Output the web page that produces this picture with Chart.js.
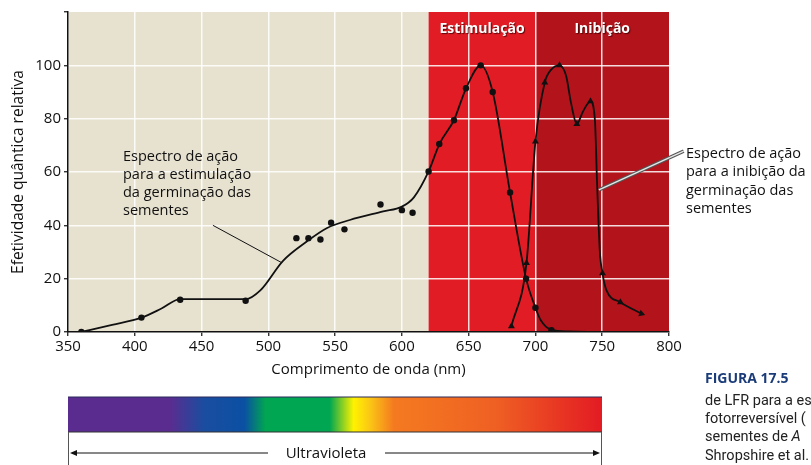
<!DOCTYPE html>
<html>
<head>
<meta charset="utf-8">
<script src="https://cdn.jsdelivr.net/npm/chart.js@4.4.0/dist/chart.umd.min.js"></script>
<style>
  html, body { margin: 0; padding: 0; background: #fff; }
  #wrap { position: relative; width: 811px; height: 465px; overflow: hidden; font-family: "Open Sans", sans-serif; }
  #chart { position: absolute; left: 0; top: 0; }
  #spectrum { position: absolute; left: 0; top: 0; }
  .caption { position: absolute; left: 705px; white-space: nowrap; font-family: Roboto, "Open Sans", sans-serif; font-size: 14.5px; line-height: 18px; color: #222; }
  .caption.title { font-weight: bold; color: #1b3c78; font-family: "Open Sans", sans-serif; font-size: 14px; }
</style>
</head>
<body>
<div id="wrap">
  <canvas id="chart" width="811" height="465"></canvas>
  <svg id="spectrum" width="811" height="465">
    <defs>
      <linearGradient id="rainbow" x1="0" x2="1" y1="0" y2="0">
        <stop offset="0" stop-color="#5b2c8f"/>
        <stop offset="0.19" stop-color="#5b2c8f"/>
        <stop offset="0.255" stop-color="#1a4da0"/>
        <stop offset="0.33" stop-color="#0b50a3"/>
        <stop offset="0.37" stop-color="#00a651"/>
        <stop offset="0.49" stop-color="#00a651"/>
        <stop offset="0.535" stop-color="#fff200"/>
        <stop offset="0.565" stop-color="#fbc715"/>
        <stop offset="0.61" stop-color="#f47a20"/>
        <stop offset="0.8" stop-color="#ef6023"/>
        <stop offset="1" stop-color="#e31b23"/>
      </linearGradient>
    </defs>
    <rect x="68" y="397" width="534" height="35" fill="url(#rainbow)"/>
    <line x1="68" y1="397" x2="602" y2="397" stroke="#2a2a5a" stroke-width="1"/>
    <line x1="68" y1="432" x2="602" y2="432" stroke="#333" stroke-width="1"/>
    <line x1="68.5" y1="432" x2="68.5" y2="465" stroke="#555" stroke-width="1"/>
    <line x1="601.5" y1="432" x2="601.5" y2="465" stroke="#555" stroke-width="1"/>
    <line x1="72" y1="453" x2="268" y2="453" stroke="#111" stroke-width="1"/>
    <line x1="385" y1="453" x2="597" y2="453" stroke="#111" stroke-width="1"/>
    <polygon points="70,453 77,450 77,456" fill="#111"/>
    <polygon points="600,453 593,450 593,456" fill="#111"/>
    <text x="326" y="458" text-anchor="middle" font-family="Open Sans, sans-serif" font-size="15" font-weight="500" fill="#111">Ultravioleta</text>
  </svg>
  <div class="caption title" style="top:369px">FIGURA 17.5</div>
  <div class="caption" style="top:392px">de LFR para a estimulação</div>
  <div class="caption" style="top:410px">fotorreversível (</div>
  <div class="caption" style="top:428px">sementes de <i>A</i></div>
  <div class="caption" style="top:447px">Shropshire et al.</div>
</div>
<script>
// axes
const wavelengthTicks = [350, 400, 450, 500, 550, 600, 650, 700, 750, 800]
const effTicks = [0, 20, 40, 60, 80, 100]
const effMax = 120

// background bands (nm) and their labels
const bandEdges = [350, 620, 700, 800]
const bandLabels = ['', 'Estimulação', 'Inibição']

// stimulation: drawn curve and measured points
const stimCurveNm = [360, 383, 405, 420, 434, 483, 494, 511, 529, 544, 561, 586, 600, 609, 620, 628, 639, 648, 659, 668, 681, 693, 700, 704, 712, 725, 746]
const stimCurveVal = [0, 2.7, 5.4, 8.8, 12.3, 12.3, 15.6, 26.7, 34, 39, 42, 45.2, 47, 50.5, 60.2, 70.4, 79.5, 91.3, 100, 90, 52.3, 20, 9.1, 4.4, 0.8, 0.2, 0]
const stimPointNm = [360, 405, 434, 483, 521, 530, 539, 547, 557, 584, 600, 608, 620, 628, 639, 648, 659, 668, 681, 693, 700, 712]
const stimPointVal = [0, 5.4, 12.1, 11.7, 35.2, 35.2, 34.7, 41, 38.5, 47.8, 45.7, 44.7, 60.2, 70.5, 79.4, 91.4, 100, 90, 52.3, 20, 9.1, 0.7]

// inhibition: drawn curve and measured points
const inhibCurveNm = [682, 693.3, 700, 707, 712, 718, 723, 726.6, 731, 735.7, 741.2, 744.5, 746.2, 748.2, 750.2, 753.2, 763.6, 779.3]
const inhibCurveVal = [2.2, 25.9, 71.4, 93.6, 98.5, 100, 96, 86, 78, 82.8, 86.5, 79.7, 55, 30.4, 22, 15.6, 11.2, 6.9]
const inhibPointNm = [682, 693.3, 700, 707, 718, 731, 741.2, 750.2, 763.6, 779.3]
const inhibPointVal = [2.2, 25.9, 71.4, 93.6, 100, 78, 86.5, 22, 11.2, 6.9]

// annotation texts
const stimNote = ['Espectro de ação', 'para a estimulação', 'da germinação das', 'sementes']
const inhibNote = ['Espectro de ação', 'para a inibição da', 'germinação das', 'sementes']

function toPoints(xs, ys) {
    return xs.map(function (x, i) { return { x: x, y: ys[i] } })
}

const bandColors = ['#e7e1d0', '#e11c25', '#b3131b']
const textFont = '500 14.5px "Open Sans", sans-serif'

// paints the coloured wavelength bands behind the grid
const bandsPlugin = {
    id: 'bands',
    beforeDraw(chart) {
        const { ctx, chartArea, scales } = chart
        ctx.save()
        for (let i = 0; i < bandEdges.length - 1; i++) {
            const x0 = scales.x.getPixelForValue(bandEdges[i])
            const x1 = scales.x.getPixelForValue(bandEdges[i + 1])
            ctx.fillStyle = bandColors[i]
            ctx.fillRect(x0, chartArea.top, x1 - x0, chartArea.bottom - chartArea.top)
        }
        ctx.restore()
    }
}

// band headers, notes and pointer lines
const notesPlugin = {
    id: 'notes',
    afterDatasetsDraw(chart) {
        const { ctx, chartArea, scales } = chart
        const x = scales.x, y = scales.y
        ctx.save()

        // band headers
        ctx.font = 'bold 14px "Open Sans", sans-serif'
        ctx.textAlign = 'center'
        ctx.textBaseline = 'middle'
        ctx.fillStyle = '#fff'
        ctx.shadowColor = 'rgba(60,0,0,0.8)'
        ctx.shadowOffsetX = 1
        ctx.shadowOffsetY = 1
        ctx.shadowBlur = 1
        for (let i = 1; i < bandLabels.length; i++) {
            const cx = (x.getPixelForValue(bandEdges[i]) + x.getPixelForValue(bandEdges[i + 1])) / 2
            ctx.fillText(bandLabels[i], cx, chartArea.top + 17)
        }
        ctx.shadowColor = 'transparent'

        // stimulation note
        ctx.font = textFont
        ctx.textAlign = 'left'
        ctx.fillStyle = '#111'
        stimNote.forEach(function (t, i) { ctx.fillText(t, 123, 157 + i * 18) })
        ctx.strokeStyle = '#111'
        ctx.lineWidth = 1
        ctx.beginPath()
        ctx.moveTo(x.getPixelForValue(458.5), y.getPixelForValue(40))
        ctx.lineTo(x.getPixelForValue(510), y.getPixelForValue(26))
        ctx.stroke()

        // inhibition note
        inhibNote.forEach(function (t, i) { ctx.fillText(t, 686, 154 + i * 18.3) })
        const px0 = x.getPixelForValue(811), py0 = y.getPixelForValue(67.8)
        const px1 = x.getPixelForValue(747.5), py1 = y.getPixelForValue(53.3)
        ctx.lineCap = 'butt'
        ctx.strokeStyle = '#555'
        ctx.lineWidth = 3.5
        ctx.beginPath(); ctx.moveTo(px0, py0); ctx.lineTo(px1, py1); ctx.stroke()
        ctx.strokeStyle = '#e6e6e6'
        ctx.lineWidth = 1.4
        ctx.beginPath(); ctx.moveTo(px0, py0); ctx.lineTo(px1, py1); ctx.stroke()

        ctx.restore()
    }
}

const gridColor = function (c) {
    const v = c.tick && c.tick.value
    if (v === effMax || v === 800) return 'transparent'
    return 'rgba(255,255,255,0.85)'
}

new Chart(document.getElementById('chart'), {
    type: 'scatter',
    data: {
        datasets: [
            {
                data: toPoints(stimCurveNm, stimCurveVal),
                showLine: true, pointRadius: 0, borderColor: '#111', borderWidth: 1.8,
                cubicInterpolationMode: 'monotone'
            },
            {
                data: toPoints(inhibCurveNm, inhibCurveVal),
                showLine: true, pointRadius: 0, borderColor: '#111', borderWidth: 1.8,
                cubicInterpolationMode: 'monotone'
            },
            {
                data: toPoints(stimPointNm, stimPointVal),
                showLine: false, pointStyle: 'circle', pointRadius: 3.2,
                pointBackgroundColor: '#111', pointBorderWidth: 0
            },
            {
                data: toPoints(inhibPointNm, inhibPointVal),
                showLine: false, pointStyle: 'triangle', pointRadius: 4,
                pointBackgroundColor: '#111', pointBorderWidth: 0,
                pointRotation: function (c) { return c.dataIndex === inhibPointNm.length - 1 ? 110 : 0 }
            }
        ]
    },
    options: {
        responsive: false,
        animation: false,
        devicePixelRatio: 1,
        layout: { padding: { left: 0, top: 8, right: 142, bottom: 0 } },
        plugins: { legend: { display: false }, tooltip: { enabled: false } },
        scales: {
            x: {
                type: 'linear',
                min: wavelengthTicks[0],
                max: wavelengthTicks[wavelengthTicks.length - 1],
                afterBuildTicks: function (s) { s.ticks = wavelengthTicks.map(function (v) { return { value: v } }) },
                afterFit: function (s) { s.height = 133 },
                grid: { color: gridColor, lineWidth: 1.5, tickColor: '#111', tickLength: 4, tickWidth: 1.2 },
                border: { color: '#111', width: 1.5 },
                ticks: { color: '#111', font: { family: 'Open Sans', size: 15, weight: '500' }, padding: 2, maxRotation: 0 },
                title: {
                    display: true, text: 'Comprimento de onda (nm)', color: '#111',
                    font: { family: 'Open Sans', size: 15, weight: '500' }, padding: { top: 0, bottom: 86 }
                }
            },
            y: {
                type: 'linear',
                min: 0,
                max: effMax,
                afterBuildTicks: function (s) { s.ticks = effTicks.concat([effMax]).map(function (v) { return { value: v } }) },
                afterFit: function (s) { s.width = 68 },
                grid: { color: gridColor, lineWidth: 1.5, tickColor: '#111', tickLength: 4, tickWidth: 1.2 },
                border: { color: '#111', width: 1.5 },
                ticks: {
                    color: '#111', font: { family: 'Open Sans', size: 15, weight: '500' }, padding: 3,
                    callback: function (v) { return effTicks.indexOf(v) >= 0 ? String(v) : '' }
                },
                title: {
                    display: true, text: 'Efetividade quântica relativa', color: '#111',
                    font: { family: 'Open Sans', size: 15.5, weight: '500' }, padding: { top: 9, bottom: 0 }
                }
            }
        }
    },
    plugins: [bandsPlugin, notesPlugin]
})
</script>
</body>
</html>
